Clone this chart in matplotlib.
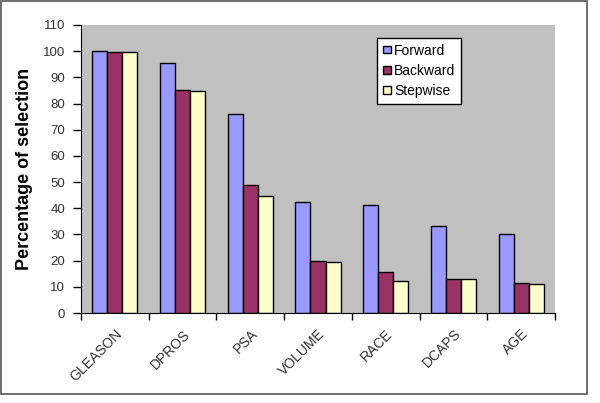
import numpy as np
import matplotlib.pyplot as plt
from matplotlib.patches import Rectangle

# values
categories = ['GLEASON', 'DPROS', 'PSA', 'VOLUME', 'RACE', 'DCAPS', 'AGE']
forward = [100.0, 95.6, 75.9, 42.4, 41.3, 33.2, 30.0]
backward = [99.8, 85.3, 48.9, 20.0, 15.8, 12.9, 11.3]
stepwise = [99.7, 84.9, 44.8, 19.4, 12.1, 12.9, 10.9]

series = [('Forward', forward, '#9999FF'),
          ('Backward', backward, '#993366'),
          ('Stepwise', stepwise, '#FFFFCC')]

plt.rcParams['font.family'] = ['Liberation Sans', 'DejaVu Sans']

fig = plt.figure(figsize=(6.0, 4.03), dpi=100)
ax = fig.add_axes([0.135, 0.2233, 0.79, 0.7147])
ax.set_facecolor('#C0C0C0')

x = np.arange(len(categories))
w = 0.222
for i, (name, vals, col) in enumerate(series):
    ax.bar(x + (i - 1) * w, vals, width=w, color=col, edgecolor='black',
           linewidth=1.0, label=name)

ax.set_xlim(-0.5, len(categories) - 0.5)
ax.set_ylim(0, 110)
ax.set_yticks(np.arange(0, 111, 10))
ax.tick_params(axis='y', direction='out', length=6, labelsize=9.5,
               labelcolor='#333333', width=1, pad=5.5)

# ticks between groups, labels centred on groups
ax.set_xticks(np.arange(-0.5, len(categories), 1.0))
ax.set_xticklabels([])
ax.set_xticks(x, minor=True)
ax.set_xticklabels(categories, minor=True, rotation=45, ha='right',
                   rotation_mode='anchor', fontsize=10, color='#333333')
ax.tick_params(axis='x', which='major', direction='out', length=5, width=1)
ax.tick_params(axis='x', which='minor', length=0, pad=10)

for s in ['top', 'right']:
    ax.spines[s].set_visible(False)
ax.spines['left'].set_color('black')
ax.spines['bottom'].set_color('black')

ax.set_ylabel('Percentage of selection', fontsize=13, fontweight='bold',
              labelpad=7)

leg = ax.legend(loc='upper left', bbox_to_anchor=(0.6245, 0.955), fontsize=10,
                fancybox=False, edgecolor='black', framealpha=1,
                handlelength=0.6, handleheight=0.45, handletextpad=0.25,
                borderpad=0.4, labelspacing=0.45, borderaxespad=0)
leg.get_frame().set_linewidth(1.0)

# outer chart border
fig.patches.append(Rectangle((1 / 600, 1 - 394 / 403), 586 / 600, 393 / 403,
                             transform=fig.transFigure, fill=False,
                             edgecolor='#555555', linewidth=1.2))

fig.savefig('out.png', dpi=100)
